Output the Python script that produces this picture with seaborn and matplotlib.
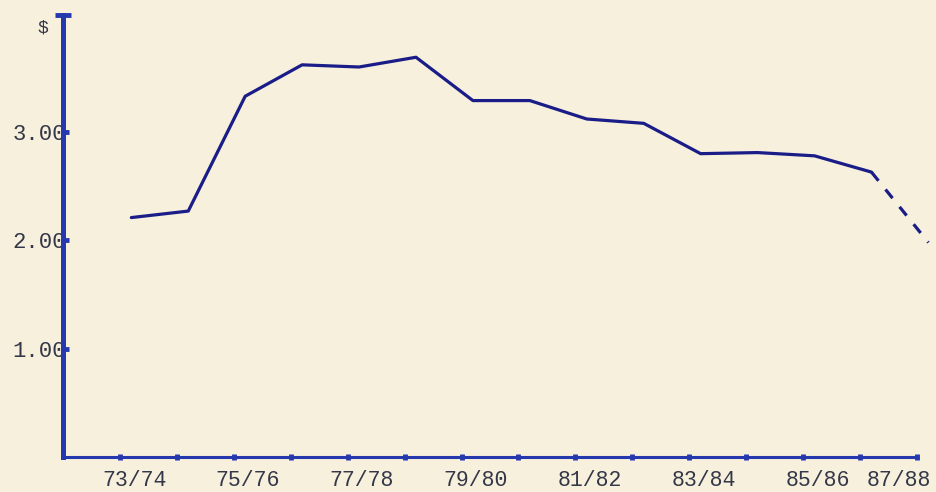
import numpy as np
import pandas as pd
import matplotlib
matplotlib.use("Agg")
import matplotlib.pyplot as plt
import seaborn as sns

# fiscal years on the x axis (every other one is labelled)
seasons = ["73/74", "74/75", "75/76", "76/77", "77/78", "78/79", "79/80",
           "80/81", "81/82", "82/83", "83/84", "84/85", "85/86", "86/87", "87/88"]
labelled = ["73/74", "75/76", "77/78", "79/80", "81/82", "83/84", "85/86", "87/88"]

# dollars
price = [2.21, 2.27, 3.33, 3.62, 3.60, 3.69, 3.29, 3.29, 3.12, 3.08,
         2.80, 2.81, 2.78, 2.63]
# dashed projection from 86/87 to 87/88
proj_seasons = ["86/87", "87/88"]
proj_price = [2.63, 1.98]

ytick_vals = [1, 2, 3]
ytick_text = ["1.00", "2.00", "3.00"]

sns.set_style("white")
plt.rcParams["font.family"] = ["Liberation Mono", "DejaVu Sans Mono"]

paper = "#f7f0dc"
ink = "#1a1d88"
axis_blue = "#2638ae"
text_col = "#343748"

pos = {s: i for i, s in enumerate(seasons)}
last = len(seasons) - 1
shift = 0.2  # points sit a bit right of the tick dots in the original

df = pd.DataFrame({"x": [pos[s] + shift for s in seasons[:len(price)]], "price": price})
dfp = pd.DataFrame({"x": [pos[s] + shift for s in proj_seasons], "price": proj_price})

fig = plt.figure(figsize=(9.36, 4.92), dpi=100, facecolor=paper)
ax = fig.add_axes([63 / 936, 35 / 492, 854 / 936, 442 / 492])
ax.set_facecolor(paper)

sns.lineplot(data=df, x="x", y="price", ax=ax, color=ink, lw=2.3)
sns.lineplot(data=dfp, x="x", y="price", ax=ax, color=ink, lw=2.3,
             linestyle=(0, (3.5, 3.5)))
for ln in ax.lines:
    ln.set_clip_on(False)

for side in ["top", "right"]:
    ax.spines[side].set_visible(False)
ax.spines["left"].set_color(axis_blue)
ax.spines["left"].set_linewidth(3.6)
ax.spines["bottom"].set_color(axis_blue)
ax.spines["bottom"].set_linewidth(2.2)

# y ticks
ax.set_yticks(ytick_vals)
ax.set_yticklabels(ytick_text)
ax.tick_params(axis="y", left=True, direction="in", length=4, width=3.5,
               color=axis_blue, pad=-2, labelsize=16, labelcolor=text_col)

# x ticks: dots at every season, labels on alternate ones
ax.set_xticks(range(len(seasons)))
ax.set_xticklabels([])
ax.tick_params(axis="x", which="major", bottom=True, direction="inout",
               length=5, width=3.5, color=axis_blue)
ax.set_xticks([pos[s] + 0.25 for s in labelled[:-1]], minor=True)
ax.set_xticklabels(labelled[:-1], minor=True)
ax.tick_params(axis="x", which="minor", bottom=True, length=0, pad=9,
               labelsize=15.5, labelcolor=text_col)
# the last label is squeezed against the right edge
ax.annotate(labelled[-1], xy=(pos[labelled[-1]], 0),
            xycoords=("data", "axes fraction"), xytext=(10, -9),
            textcoords="offset points", ha="right", va="top",
            fontsize=15.5, color=text_col, annotation_clip=False)

# limits last, set_xticks would widen them
ax.set_xlim(-1, last)
ax.set_ylim(0, 4.08)

# cap on top of the y axis
ax.plot(-1, 4.08, marker="_", ms=11, mew=3.5, color=axis_blue, clip_on=False)

ax.set_xlabel("")
ax.set_ylabel("")
fig.text(43 / 936, 1 - 28 / 492, "$", ha="center", va="center",
         fontsize=13, color=text_col)

fig.savefig("out.png", dpi=100, facecolor=paper)
